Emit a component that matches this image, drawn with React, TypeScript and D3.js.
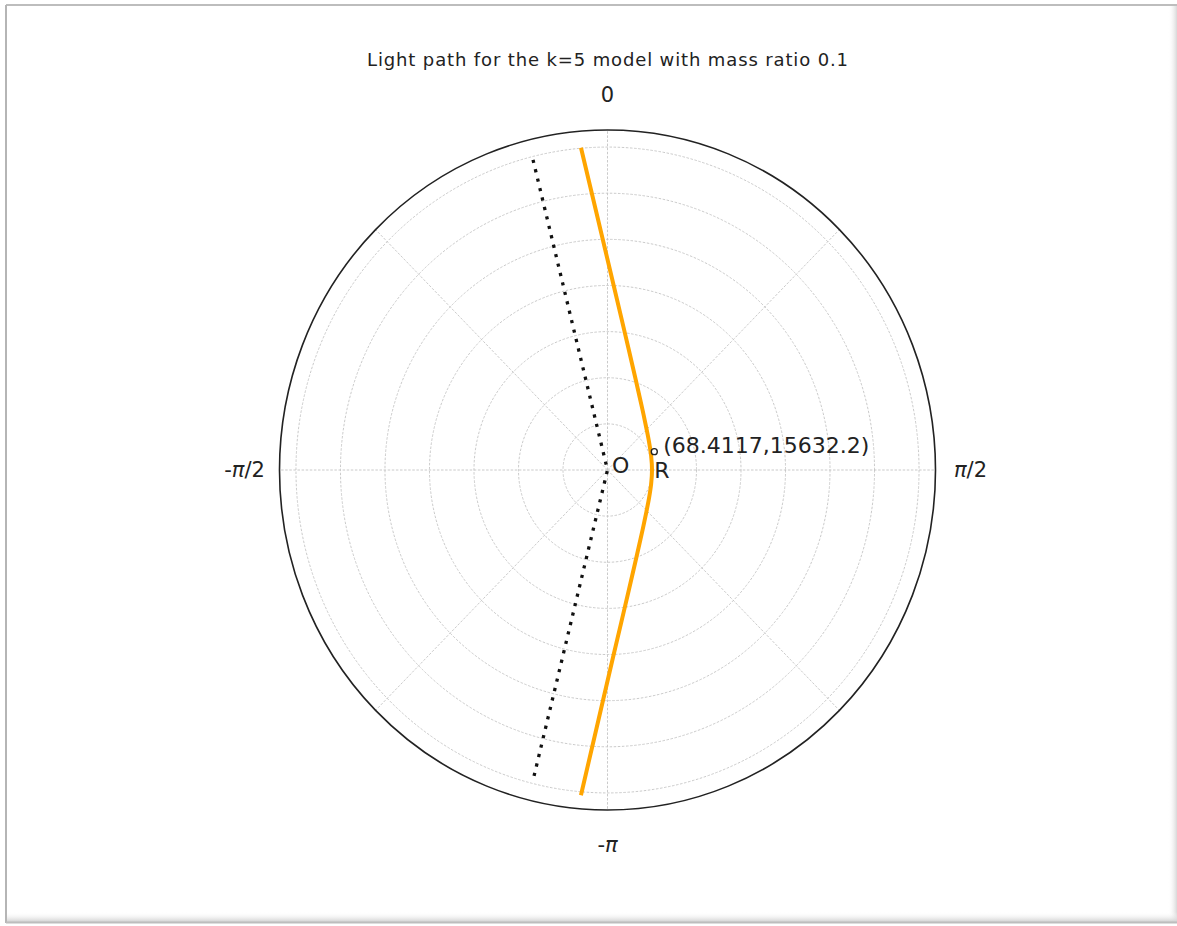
import React from "react";
import * as d3 from "d3";

// ---- data (polar: theta in radians clockwise from north, r in data units) ----
const ringValues = [1, 2, 3, 4, 5, 6, 7];
const rMax = 7.37;
const thetaGridDeg = [0, 45, 90, 135, 180, 225, 270, 315];
const labelAnglesDeg = [0, 90, 180, 270];
const labelTexts = [["0"], ["π", "/2"], ["-", "π"], ["-", "π", "/2"]];

const lightTheta = [
  -0.0851, 0.0347, 0.127, 0.3025, 0.4589, 0.5938, 0.7713, 1.0002, 1.2737, 1.5708,
  1.8679, 2.1414, 2.3703, 2.5478, 2.6827, 2.8391, 3.0146, 3.1069, 3.226,
];
const lightR = [
  7.01, 4.0024, 3.0243, 2.0951, 1.673, 1.4478, 1.2552, 1.111, 1.0259, 1.0,
  1.0259, 1.111, 1.2552, 1.4478, 1.673, 2.0951, 3.0243, 4.0024, 7.075,
];

const asymTheta = [-0.2439, 0, 3.3855];
const asymR = [6.93, 0, 6.93];

const pointR = { theta: 1.2094, r: 1.124 };
const titleText = "Light path for the k=5 model with mass ratio 0.1";
const coordLabel = "(68.4117,15632.2)";

const W = 1177;
const H = 926;
const cx = 607.5;
const cy = 470;
const RX = 328;
const RY = 340;

export default function App() {
  const sx = d3.scaleLinear().domain([0, rMax]).range([0, RX]);
  const sy = d3.scaleLinear().domain([0, rMax]).range([0, RY]);
  const px = (t: number, r: number) => cx + sx(r) * Math.sin(t);
  const py = (t: number, r: number) => cy - sy(r) * Math.cos(t);

  const lightPts = lightTheta.map((t, i) => [t, lightR[i]] as [number, number]);
  const asymPts = asymTheta.map((t, i) => [t, asymR[i]] as [number, number]);

  const curve = d3
    .line<[number, number]>()
    .x((d) => px(d[0], d[1]))
    .y((d) => py(d[0], d[1]))
    .curve(d3.curveCatmullRom.alpha(0.5));
  const straight = d3
    .line<[number, number]>()
    .x((d) => px(d[0], d[1]))
    .y((d) => py(d[0], d[1]));

  const font = "'DejaVu Sans', sans-serif";
  const ink = "#222";
  const rPx = px(pointR.theta, pointR.r);
  const rPy = py(pointR.theta, pointR.r);

  return (
    <svg
      width={W}
      height={H}
      style={{ position: "absolute", left: 0, top: 0, background: "#fff" }}
      fontFamily={font}
    >
      <defs>
        <linearGradient id="shb" x1="0" y1="0" x2="0" y2="1">
          <stop offset="0" stopColor="#fff" stopOpacity="0" />
          <stop offset="1" stopColor="#cfcfcf" stopOpacity="1" />
        </linearGradient>
        <linearGradient id="shr" x1="0" y1="0" x2="1" y2="0">
          <stop offset="0" stopColor="#fff" stopOpacity="0" />
          <stop offset="1" stopColor="#d8d8d8" stopOpacity="1" />
        </linearGradient>
      </defs>
      <rect x={0} y={0} width={W} height={H} fill="#fff" />
      {/* frame */}
      <rect x={1168} y={6} width={9} height={916} fill="url(#shr)" />
      <rect x={7} y={912} width={1170} height={10} fill="url(#shb)" />
      <line x1={6} y1={5} x2={1177} y2={5} stroke="#bdbdbd" strokeWidth={2} />
      <line x1={6} y1={5} x2={6} y2={923} stroke="#b5b5b5" strokeWidth={2} />
      <line x1={6} y1={922.5} x2={1177} y2={922.5} stroke="#bdbdbd" strokeWidth={2} />

      {/* title */}
      <text
        x={cx}
        y={65.5}
        textAnchor="middle"
        fontSize={18}
        fill={ink}
        textLength={481}
        lengthAdjust="spacing"
      >
        {titleText}
      </text>

      {/* grid rings */}
      {ringValues.map((v) => (
        <ellipse
          key={"ring" + v}
          cx={cx}
          cy={cy}
          rx={sx(v)}
          ry={sy(v)}
          fill="none"
          stroke="#c4c4c4"
          strokeWidth={0.9}
          strokeDasharray="2.5 1.6"
        />
      ))}
      {/* angular grid */}
      {thetaGridDeg.map((deg) => {
        const t = (deg * Math.PI) / 180;
        return (
          <line
            key={"tg" + deg}
            x1={cx}
            y1={cy}
            x2={px(t, rMax)}
            y2={py(t, rMax)}
            stroke="#c4c4c4"
            strokeWidth={0.9}
            strokeDasharray="2.5 1.6"
          />
        );
      })}

      {/* outer boundary */}
      <ellipse cx={cx} cy={cy} rx={RX} ry={RY} fill="none" stroke="#222" strokeWidth={1.6} />

      {/* angle labels */}
      {labelAnglesDeg.map((deg, i) => {
        const t = (deg * Math.PI) / 180;
        const lx = cx + (RX + 35) * Math.sin(t);
        const ly = cy - (RY + 35) * Math.cos(t);
        return (
          <text
            key={"al" + deg}
            x={lx}
            y={ly}
            textAnchor="middle"
            dominantBaseline="central"
            fontSize={21}
            fill={ink}
          >
            {labelTexts[i].map((s, j) => (
              <tspan key={j} fontStyle={s === "π" ? "italic" : "normal"}>
                {s}
              </tspan>
            ))}
          </text>
        );
      })}

      {/* asymptote (dotted) */}
      <path
        d={straight(asymPts) || ""}
        fill="none"
        stroke="#111"
        strokeWidth={3.3}
        strokeDasharray="3.2 6.5"
      />

      {/* light path */}
      <path d={curve(lightPts) || ""} fill="none" stroke="#FFA500" strokeWidth={4} strokeLinecap="butt" />

      {/* point R */}
      <circle cx={rPx} cy={rPy} r={3} fill="#fff" stroke="#222" strokeWidth={1.4} />
      <text x={rPx + 9} y={rPy + 1.5} fontSize={22} fill={ink}>
        {coordLabel}
      </text>
      <text x={rPx} y={rPy + 26.5} fontSize={22} fill={ink}>
        R
      </text>
      <text x={px(0, 0) + 4.5} y={py(0, 0) + 3} fontSize={22} fill={ink}>
        O
      </text>
    </svg>
  );
}
